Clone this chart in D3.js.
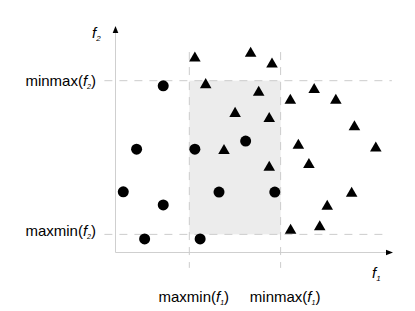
<!DOCTYPE html>
<html>
<head>
<meta charset="utf-8">
<script src="https://cdn.jsdelivr.net/npm/d3@7"></script>
<style>
  body { margin: 0; background: #fff; }
  text { font-family: "Liberation Sans", Arial, sans-serif; fill: #000; }
</style>
</head>
<body>
<svg></svg>
<script>
// solutions drawn as circles (f1, f2)
const circles = [
  [1.72, 7.36], [0.76, 4.56], [2.86, 4.56], [0.28, 2.68], [1.72, 2.10],
  [1.05, 0.60], [3.05, 0.60], [4.69, 4.92], [3.73, 2.67], [5.74, 2.67]
];
// solutions drawn as triangles (f1, f2)
const triangles = [
  [2.86, 8.62], [3.25, 7.44], [4.87, 8.82], [5.64, 8.35], [5.16, 7.10],
  [6.30, 6.75], [7.16, 7.22], [7.94, 6.75], [8.61, 5.58], [6.59, 4.76],
  [9.38, 4.64], [4.31, 6.17], [5.54, 5.94], [3.91, 4.53], [5.54, 3.79],
  [6.97, 3.91], [8.51, 2.64], [7.63, 2.07], [6.31, 1.01], [7.36, 1.16]
];
// reference values
const f1Refs = [{ name: "maxmin", sub: "1", v: 2.66 }, { name: "minmax", sub: "1", v: 5.95 }];
const f2Refs = [{ name: "minmax", sub: "2", v: 7.585 }, { name: "maxmin", sub: "2", v: 0.80 }];

const w = 415;
const h = 311;

const svg = d3.select("svg").attr("width", w).attr("height", h);

const x = d3.scaleLinear().domain([0, 10]).range([115.5, 393]);
const y = d3.scaleLinear().domain([0, 10]).range([252.5, 26]);

// shaded box between the reference values
svg.append("rect")
  .attr("x", x(f1Refs[0].v))
  .attr("y", y(f2Refs[0].v))
  .attr("width", x(f1Refs[1].v) - x(f1Refs[0].v))
  .attr("height", y(f2Refs[1].v) - y(f2Refs[0].v))
  .attr("fill", "#ececec");

// axes
svg.append("line")
  .attr("x1", x(0)).attr("x2", x(0))
  .attr("y1", y(0)).attr("y2", y(9.8))
  .attr("stroke", "#cfcfcf");
svg.append("line")
  .attr("x1", x(0)).attr("x2", x(9.85))
  .attr("y1", y(0)).attr("y2", y(0))
  .attr("stroke", "#cfcfcf");
// arrow heads
svg.append("path")
  .attr("d", `M${x(0)},${y(10)} L${x(0) - 2.8},${y(10) + 7} L${x(0) + 2.8},${y(10) + 7} Z`)
  .attr("fill", "#000");
svg.append("path")
  .attr("d", `M${x(10)},${y(0)} L${x(10) - 7},${y(0) - 2.8} L${x(10) - 7},${y(0) + 2.8} Z`)
  .attr("fill", "#000");

// dashed reference lines
const dash = "8,7";
svg.selectAll(".hline")
  .data(f2Refs)
  .enter()
  .append("line")
  .attr("x1", x(-0.4))
  .attr("x2", (d, i) => x(i === 0 ? 9.96 : 9.64))
  .attr("y1", d => y(d.v))
  .attr("y2", d => y(d.v))
  .attr("stroke", "#cccccc")
  .attr("stroke-dasharray", dash);
svg.selectAll(".vline")
  .data(f1Refs)
  .enter()
  .append("line")
  .attr("x1", d => x(d.v))
  .attr("x2", d => x(d.v))
  .attr("y1", y(8.85))
  .attr("y2", y(-0.68))
  .attr("stroke", "#cccccc")
  .attr("stroke-dasharray", dash);

// points
svg.selectAll(".circ")
  .data(circles)
  .enter()
  .append("circle")
  .attr("cx", d => x(d[0]))
  .attr("cy", d => y(d[1]))
  .attr("r", 5.5)
  .attr("fill", "#000");

const tri = d3.symbol().type(d3.symbolTriangle).size(58);
svg.selectAll(".tri")
  .data(triangles)
  .enter()
  .append("path")
  .attr("d", tri)
  .attr("transform", d => `translate(${x(d[0])}, ${y(d[1]) + 0.8})`)
  .attr("fill", "#000");

// label helper: name(f_sub)
function refLabel(sel, d) {
  sel.append("tspan").text(d.name + "(");
  sel.append("tspan").attr("font-style", "italic").text("f");
  sel.append("tspan").attr("font-style", "italic").attr("font-size", 7).attr("dy", 3).text(d.sub);
  sel.append("tspan").attr("dy", -3).text(")");
}

svg.selectAll(".ylab")
  .data(f2Refs)
  .enter()
  .append("text")
  .attr("x", 96)
  .attr("y", (d, i) => y(d.v) + (i === 0 ? 5 : 1.5))
  .attr("text-anchor", "end")
  .attr("font-size", 15)
  .each(function(d) { refLabel(d3.select(this), d); });

svg.selectAll(".xlab")
  .data(f1Refs)
  .enter()
  .append("text")
  .attr("x", d => x(d.v) + 4.5)
  .attr("y", 301.5)
  .attr("text-anchor", "middle")
  .attr("font-size", 15)
  .each(function(d) { refLabel(d3.select(this), d); });

// axis titles
function axisTitle(px, py, sub) {
  const t = svg.append("text").attr("x", px).attr("y", py).attr("font-size", 15).attr("font-style", "italic");
  t.append("tspan").text("f");
  t.append("tspan").attr("font-size", 8).attr("dy", 3).text(sub);
}
axisTitle(92, 38, "2");
axisTitle(372, 278, "1");
</script>
</body>
</html>
